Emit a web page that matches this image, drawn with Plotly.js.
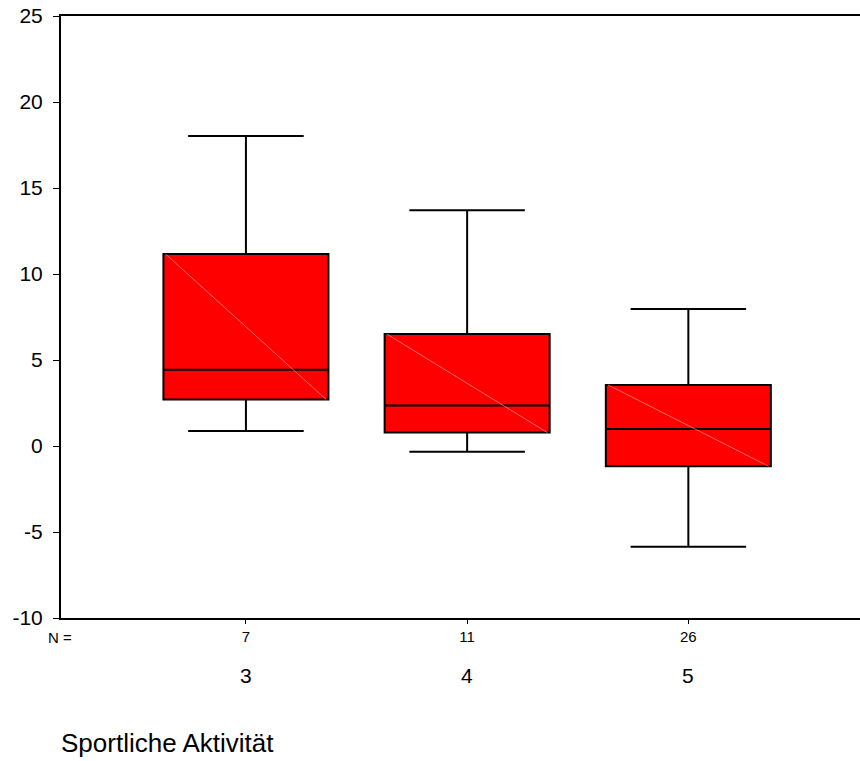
<!DOCTYPE html>
<html>
<head>
<meta charset="utf-8">
<script src="https://cdn.plot.ly/plotly-3.0.1.min.js"></script>
<style>
  html, body { margin: 0; padding: 0; background: #fff; }
  #chart { width: 860px; height: 761px; }
</style>
</head>
<body>
<div id="chart"></div>
<script>
// Group labels (sport activity level) and sample sizes
const groups = ['3', '4', '5'];
const counts = ['7', '11', '26'];

// Five-number summaries per group
const lowerWhisker = [0.87, -0.33, -5.86];
const q1Values     = [2.70, 0.78, -1.18];
const medians      = [4.43, 2.35, 0.99];
const q3Values     = [11.16, 6.51, 3.55];
const upperWhisker = [18.02, 13.71, 7.96];

// Y axis ticks, labelled with a plain hyphen for negatives
const yTickValues = [-10, -5, 0, 5, 10, 15, 20, 25];
const yTickLabels = ['-10', '-5', '0', '5', '10', '15', '20', '25'];

const positions = groups.map((g, i) => i);
const boxWidth = 0.746;
const FONT = 'Liberation Sans, Arial, sans-serif';

const boxTrace = {
  type: 'box',
  x: positions,
  q1: q1Values,
  median: medians,
  q3: q3Values,
  lowerfence: lowerWhisker,
  upperfence: upperWhisker,
  width: boxWidth,
  whiskerwidth: 0.7,
  boxpoints: false,
  fillcolor: '#ff0000',
  line: { color: '#000000', width: 2 },
  hoverinfo: 'skip',
  showlegend: false
};

// Faint diagonal seam across each filled box (top-left to bottom-right)
const seamX = [], seamY = [];
positions.forEach((p, i) => {
  seamX.push(p - boxWidth / 2 + 0.01, p + boxWidth / 2 - 0.01, null);
  seamY.push(q3Values[i], q1Values[i], null);
});
const seamTrace = {
  type: 'scatter',
  mode: 'lines',
  x: seamX,
  y: seamY,
  line: { color: 'rgba(255,130,130,0.8)', width: 1 },
  hoverinfo: 'skip',
  showlegend: false
};

// Category labels below the sample-size row
const groupLabels = groups.map((g, i) => ({
  xref: 'x', yref: 'paper',
  x: positions[i], y: -0.095,
  yanchor: 'middle', xanchor: 'center',
  text: g, showarrow: false,
  font: { family: FONT, size: 21, color: '#000' }
}));

const layout = {
  width: 860,
  height: 761,
  margin: { l: 61, r: 0, t: 16, b: 143 },
  paper_bgcolor: '#ffffff',
  plot_bgcolor: '#ffffff',
  font: { family: FONT, color: '#000' },
  showlegend: false,
  xaxis: {
    type: 'linear',
    range: [-0.836, 2.776],
    tickvals: positions,
    ticktext: counts,
    ticks: 'outside',
    ticklen: 4,
    tickwidth: 1,
    tickcolor: '#000',
    tickfont: { family: FONT, size: 15, color: '#000' },
    showline: true,
    mirror: true,
    linecolor: '#000',
    linewidth: 2,
    showgrid: false,
    zeroline: false,
    fixedrange: true
  },
  yaxis: {
    range: [-10, 25],
    tickvals: yTickValues,
    ticktext: yTickLabels,
    ticks: 'outside',
    ticklen: 6,
    tickwidth: 1,
    tickcolor: '#000',
    ticklabelstandoff: 6,
    tickfont: { family: FONT, size: 21, color: '#000' },
    showline: true,
    linecolor: '#000',
    linewidth: 2,
    showgrid: false,
    zeroline: false,
    fixedrange: true
  },
  annotations: [
    {
      xref: 'paper', yref: 'paper',
      x: -0.019, y: -0.032,
      xanchor: 'left', yanchor: 'middle',
      text: 'N =', showarrow: false,
      font: { family: FONT, size: 15, color: '#000' }
    },
    ...groupLabels,
    {
      xref: 'paper', yref: 'paper',
      x: -0.002, y: -0.207,
      xanchor: 'left', yanchor: 'middle',
      text: 'Sportliche Aktivität', showarrow: false,
      font: { family: FONT, size: 26, color: '#000' }
    }
  ]
};

Plotly.newPlot('chart', [boxTrace, seamTrace], layout, { displayModeBar: false, staticPlot: true });
</script>
</body>
</html>
